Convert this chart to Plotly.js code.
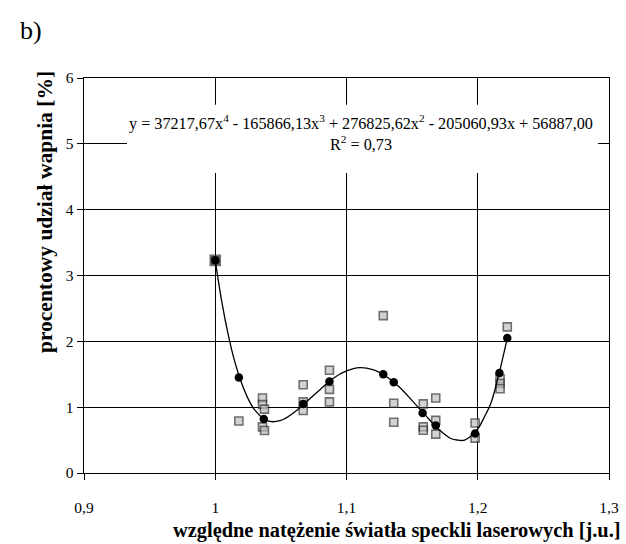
<!DOCTYPE html>
<html>
<head>
<meta charset="utf-8">
<script src="https://cdn.plot.ly/plotly-3.0.1.min.js"></script>
<style>html,body{margin:0;padding:0;background:#fff;}#chart{width:626px;height:544px;}</style>
</head>
<body>
<div id="chart"></div>
<script>
// measured points (grey squares)
const measX = [1.000, 1.018, 1.036, 1.036, 1.036, 1.0375, 1.0375, 1.067, 1.067, 1.067, 1.087, 1.087, 1.087, 1.128, 1.136, 1.136, 1.1585, 1.1585, 1.1585, 1.168, 1.168, 1.168, 1.198, 1.198, 1.217, 1.217, 1.217, 1.2225];
const measY = [3.23, 0.79, 1.14, 1.04, 0.70, 0.97, 0.645, 1.34, 1.08, 0.95, 1.56, 1.27, 1.08, 2.39, 1.06, 0.77, 1.05, 0.70, 0.65, 1.14, 0.80, 0.59, 0.76, 0.53, 1.43, 1.36, 1.28, 2.22];
// fitted values (black dots)
const fitX = [1.000, 1.018, 1.037, 1.067, 1.087, 1.128, 1.136, 1.158, 1.168, 1.198, 1.2165, 1.2225];
const fitY = [3.23, 1.45, 0.82, 1.05, 1.39, 1.50, 1.38, 0.91, 0.72, 0.60, 1.52, 2.05];
// trend line
const trendX = [1.000, 1.005, 1.010, 1.015, 1.020, 1.025, 1.030, 1.040, 1.050, 1.060, 1.070, 1.080, 1.090, 1.100, 1.110, 1.120, 1.130, 1.140, 1.150, 1.160, 1.170, 1.180, 1.185, 1.190, 1.200, 1.205, 1.210, 1.215, 1.2225];
const trendY = [3.23, 2.60, 2.09, 1.68, 1.37, 1.13, 0.96, 0.79, 0.80, 0.92, 1.09, 1.27, 1.44, 1.55, 1.60, 1.57, 1.47, 1.31, 1.10, 0.88, 0.67, 0.52, 0.50, 0.50, 0.67, 0.85, 1.06, 1.41, 2.05];
const xTicks = [0.9, 1.0, 1.1, 1.2, 1.3];
const yTicks = [0, 1, 2, 3, 4, 5, 6];

const serif = 'Liberation Serif, Times New Roman, serif';
const sqColors = measX.map((x, i) => i === 0 ? '#000000' : '#c0c0c0');
const sqSizes = measX.map((x, i) => i === 0 ? 10 : 8);

const traces = [
  {x: measX, y: measY, type: 'scatter', mode: 'markers',
   marker: {symbol: 'square', color: sqColors, size: sqSizes, line: {color: '#333333', width: 1.6}},
   hoverinfo: 'skip', showlegend: false},
  {x: trendX, y: trendY, type: 'scatter', mode: 'lines',
   line: {color: '#000000', width: 1.3, shape: 'spline', smoothing: 1},
   hoverinfo: 'skip', showlegend: false},
  {x: fitX, y: fitY, type: 'scatter', mode: 'markers',
   marker: {symbol: 'circle', color: '#000000', size: 8.5},
   hoverinfo: 'skip', showlegend: false}
];

const layout = {
  width: 626, height: 544,
  margin: {l: 84, r: 17, t: 78, b: 71},
  paper_bgcolor: '#ffffff', plot_bgcolor: '#ffffff',
  separators: ', ',
  font: {family: serif, color: '#000000', size: 15},
  xaxis: {range: [0.9, 1.3], tickvals: xTicks, showgrid: true, gridcolor: '#000000', gridwidth: 1,
          zeroline: false, showline: true, mirror: true, linecolor: '#000000', linewidth: 1.3,
          ticks: 'outside', ticklen: 6, tickcolor: '#000000', tickfont: {family: serif, size: 15.5}, ticklabelstandoff: 14},
  yaxis: {range: [0, 6], tickvals: yTicks, showgrid: true, gridcolor: '#000000', gridwidth: 1,
          zeroline: false, showline: true, mirror: true, linecolor: '#000000', linewidth: 1.3,
          ticks: 'outside', ticklen: 6, tickcolor: '#000000', tickfont: {family: serif, size: 15.5}},
  shapes: [
    {type: 'rect', xref: 'paper', yref: 'paper', x0: 0.0819, x1: 0.979, y0: 0.7595, y1: 0.932,
     fillcolor: '#ffffff', line: {width: 0}, layer: 'above'}
  ],
  annotations: [
    {xref: 'paper', yref: 'paper', x: 0.528, y: 0.8595, xanchor: 'center', yanchor: 'middle',
     text: 'y = 37217,67x<sup>4</sup> - 165866,13x<sup>3</sup> + 276825,62x<sup>2</sup> - 205060,93x + 56887,00<br>R<sup>2</sup> = 0,73',
     showarrow: false, align: 'center',
     font: {family: serif, size: 16.2, color: '#000000'}},
    {xref: 'paper', yref: 'paper', x: -0.074, y: 0.661, xanchor: 'center', yanchor: 'middle',
     text: '<b>procentowy udział wapnia [%]</b>', textangle: -90, showarrow: false,
     font: {family: serif, size: 21.5, color: '#000000'}},
    {xref: 'paper', yref: 'paper', x: 1.0267, y: -0.1468, xanchor: 'right', yanchor: 'middle',
     text: '<b>względne natężenie światła speckli laserowych [j.u.]</b>', showarrow: false,
     font: {family: serif, size: 20.4, color: '#000000'}},
    {xref: 'paper', yref: 'paper', x: -0.1257, y: 1.119, xanchor: 'left', yanchor: 'middle',
     text: 'b)', showarrow: false, font: {family: serif, size: 26, color: '#000000'}}
  ]
};

Plotly.newPlot('chart', traces, layout, {staticPlot: true, displayModeBar: false});
</script>
</body>
</html>
